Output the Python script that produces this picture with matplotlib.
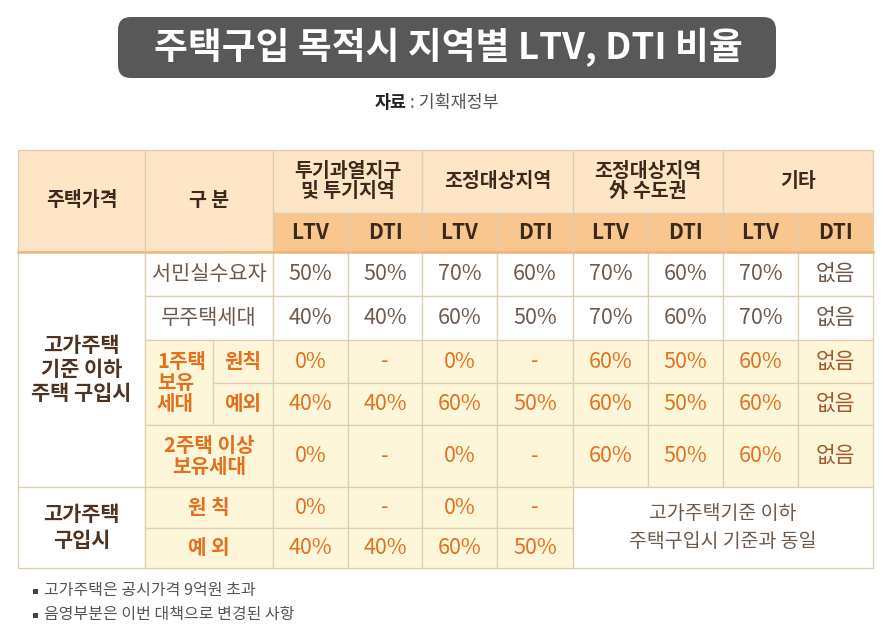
import matplotlib
matplotlib.use('Agg')
import matplotlib.pyplot as plt
from matplotlib.patches import Rectangle, FancyBboxPatch
#
# -----------------------------------------------------------------------------
#
""" Data """
title = '주택구입 목적시 지역별 LTV, DTI 비율'
source_key = '자료'
source_val = ': 기획재정부'

regions = ['투기과열지구\n및 투기지역', '조정대상지역', '조정대상지역\n外 수도권', '기타']
metrics = ['LTV', 'DTI']

# rows under the "고가주택 기준 이하" group
row_seomin = ['50%', '50%', '70%', '60%', '70%', '60%', '70%', '없음']
row_mujutaek = ['40%', '40%', '60%', '50%', '70%', '60%', '70%', '없음']
row_one_rule = ['0%', '-', '0%', '-', '60%', '50%', '60%', '없음']
row_one_exc = ['40%', '40%', '60%', '50%', '60%', '50%', '60%', '없음']
row_two_plus = ['0%', '-', '0%', '-', '60%', '50%', '60%', '없음']
# rows under the "고가주택 구입시" group (first two regions only)
row_high_rule = ['0%', '-', '0%', '-']
row_high_exc = ['40%', '40%', '60%', '50%']
high_same_note = '고가주택기준 이하\n주택구입시 기준과 동일'

notes = ['고가주택은 공시가격 9억원 초과', '음영부분은 이번 대책으로 변경된 사항']
#
# -----------------------------------------------------------------------------
#
""" Layout (pixels) """
W, H = 889, 638
col_x = [18, 145, 273, 348, 422, 497, 573, 648, 723, 798, 873]
sub_x = 213
head_y = [150, 213, 252]
row_y = [252, 296, 340, 383, 425, 487, 528, 568]

c_head1 = '#fde5c6'
c_head2 = '#f9c690'
c_shade = '#fef6d9'
c_line = '#dfcdb3'
c_dark = '#3b2a1c'
c_brown = '#4e3320'
c_gray = '#6e5a4b'
c_orange = '#e2701e'
c_none = '#a4582a'

plt.rcParams['font.family'] = ['Noto Sans CJK KR', 'DejaVu Sans']

fig = plt.figure(figsize=(W / 100, H / 100), dpi=100)
ax = fig.add_axes([0, 0, 1, 1])
ax.set_xlim(0, W)
ax.set_ylim(H, 0)
ax.axis('off')


def cell(x0, x1, y0, y1, fill, text='', color=c_gray, size=15, weight='medium', ls=1.15):
    ax.add_patch(Rectangle((x0, y0), x1 - x0, y1 - y0, facecolor=fill,
                           edgecolor=c_line, linewidth=0.9, zorder=1))
    if text:
        ax.text((x0 + x1) / 2, (y0 + y1) / 2, text, ha='center', va='center',
                color=color, fontsize=size, fontweight=weight, linespacing=ls, zorder=3)


# title box
ax.add_patch(FancyBboxPatch((118, 17), 658, 61, boxstyle='round,pad=0,rounding_size=13',
                            facecolor='#585858', edgecolor='none', zorder=1))
ax.text(448, 47, title, ha='center', va='center', color='white',
        fontsize=26.5, fontweight='heavy', zorder=3)
ax.text(407, 103, source_key, ha='right', va='center', color='#222222',
        fontsize=12.5, fontweight='heavy')
ax.text(410, 103, source_val, ha='left', va='center', color='#555555', fontsize=12.5)

# header
cell(col_x[0], col_x[1], head_y[0], head_y[2], c_head1, '주택가격', c_dark, 14, 'bold')
cell(col_x[1], col_x[2], head_y[0], head_y[2], c_head1, '구 분', c_dark, 14, 'bold')
for i, reg in enumerate(regions):
    x0, x1 = col_x[2 + 2 * i], col_x[4 + 2 * i]
    cell(x0, x1, head_y[0], head_y[1], c_head1, reg, c_dark, 14, 'bold', 1.05)
    for j, m in enumerate(metrics):
        cell(col_x[2 + 2 * i + j], col_x[3 + 2 * i + j], head_y[1], head_y[2],
             c_head2, m, c_dark, 15, 'bold')

# body: group 1
cell(col_x[0], col_x[1], row_y[0], row_y[5], 'white', '고가주택\n기준 이하\n주택 구입시',
     c_brown, 15, 'bold', 1.2)
cell(col_x[1], col_x[2], row_y[0], row_y[1], 'white', '서민실수요자', c_gray, 15)
cell(col_x[1], col_x[2], row_y[1], row_y[2], 'white', '무주택세대', c_gray, 15)
ax.add_patch(Rectangle((col_x[1], row_y[2]), sub_x - col_x[1], row_y[4] - row_y[2],
                       facecolor=c_shade, edgecolor=c_line, linewidth=0.9, zorder=1))
ax.text(157, (row_y[2] + row_y[4]) / 2, '1주택\n보유\n세대', ha='left', va='center',
        color=c_orange, fontsize=14.5, fontweight='bold', linespacing=1.0, zorder=3)
cell(sub_x, col_x[2], row_y[2], row_y[3], c_shade, '원칙', c_orange, 14.5, 'bold')
cell(sub_x, col_x[2], row_y[3], row_y[4], c_shade, '예외', c_orange, 14.5, 'bold')
cell(col_x[1], col_x[2], row_y[4], row_y[5], c_shade, '2주택 이상\n보유세대', c_orange, 14.5,
     'bold', 1.05)

group1 = [(row_seomin, False), (row_mujutaek, False), (row_one_rule, True),
          (row_one_exc, True), (row_two_plus, True)]
for r, (vals, shaded) in enumerate(group1):
    for k, v in enumerate(vals):
        if shaded:
            col = c_none if v == '없음' else c_orange
            fill = c_shade
        else:
            col = c_gray
            fill = 'white'
        cell(col_x[2 + k], col_x[3 + k], row_y[r], row_y[r + 1], fill, v, col, 15.5)

# body: group 2
cell(col_x[0], col_x[1], row_y[5], row_y[7], 'white', '고가주택\n구입시', c_brown, 15, 'bold', 1.3)
cell(col_x[1], col_x[2], row_y[5], row_y[6], c_shade, '원 칙', c_orange, 14.5, 'bold')
cell(col_x[1], col_x[2], row_y[6], row_y[7], c_shade, '예 외', c_orange, 14.5, 'bold')
for r, vals in enumerate([row_high_rule, row_high_exc]):
    for k, v in enumerate(vals):
        cell(col_x[2 + k], col_x[3 + k], row_y[5 + r], row_y[6 + r], c_shade, v, c_orange, 15.5)
cell(col_x[6], col_x[10], row_y[5], row_y[7], 'white', high_same_note, c_gray, 14, 'medium', 1.4)

# stronger rule below header
ax.plot([col_x[0], col_x[-1]], [head_y[2], head_y[2]], color='#f0b47a', linewidth=1.8, zorder=4)

# footnotes (square bullets drawn as patches)
for i, n in enumerate(notes):
    yc = 591 + 24 * i
    ax.add_patch(Rectangle((33, yc - 2.5), 5, 5, facecolor='#444444', edgecolor='none'))
    ax.text(44, yc, n, ha='left', va='center', color='#555555', fontsize=11.5)

fig.savefig('out.png', dpi=100)
